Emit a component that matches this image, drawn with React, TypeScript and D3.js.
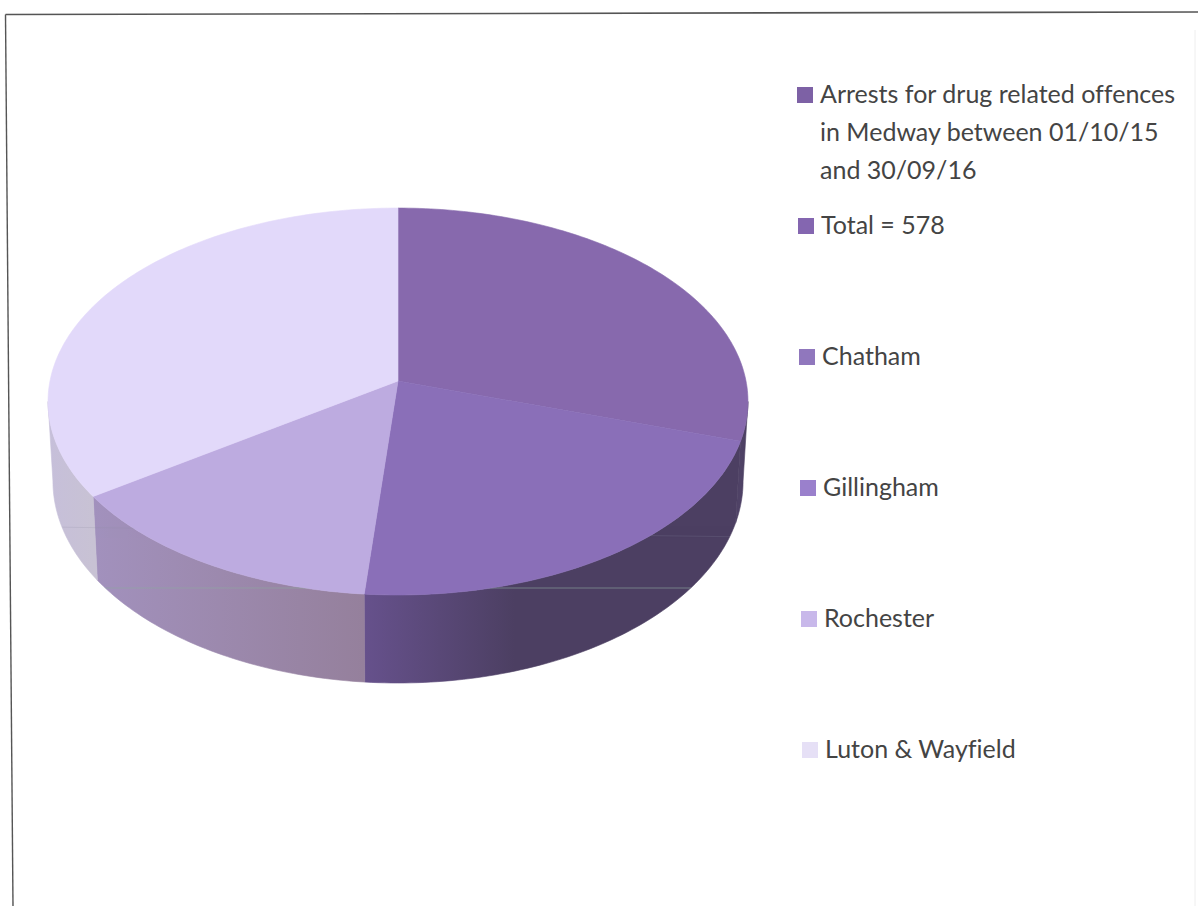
import React from "react";
import * as d3 from "d3";

const categories = ["Chatham", "Gillingham", "Rochester", "Luton & Wayfield"];
const arrests = [173, 124, 81, 200];

const topColors = ["#8769ad", "#8a6fb8", "#bdabe0", "#e2d9fa"];
const wallColorsLeft = ["#4f4266", "#66518c", "#a291bd", "#c6bfda"];
const wallColorsRight = ["#4b3f60", "#4c3f62", "#95809c", "#c8c2d4"];

const legendLabels = [
  ["Arrests for drug related offences", "in Medway between 01/10/15", "and 30/09/16"],
  ["Total = 578"],
  ["Chatham"],
  ["Gillingham"],
  ["Rochester"],
  ["Luton & Wayfield"],
];
const legendColors = ["#7d61a5", "#8466b0", "#9077bd", "#9a80cc", "#c8b8ea", "#e6e0f6"];

const width = 1198;
const height = 906;

// perspective of the disc, worked out from the top face outline
const cx = 398;
const apexY = 381;
const radiusX = 348;
const radiusY = 191.3;
const tilt = 0.106;
const depth = 78.7;
const bottomShrink = 0.986;

type Pt = [number, number];

const project = (angle: number, r: number, lower: boolean): Pt => {
  const u = Math.sin(angle) * r;
  const v = -Math.cos(angle) * r;
  const s = 1 / (1 - tilt * v);
  const x = radiusX * u * s * (lower ? bottomShrink : 1);
  const y = radiusY * v * s + (lower ? depth * s : 0);
  return [cx + x, apexY + y];
};

const sample = (a0: number, a1: number, lower: boolean): Pt[] => {
  const n = Math.max(2, Math.ceil(((a1 - a0) * 180) / Math.PI));
  return d3.range(n + 1).map((i) => project(a0 + ((a1 - a0) * i) / n, 1, lower));
};

const line = d3.line<Pt>();

const pie = d3.pie<number>().sort(null);
const slices = pie(arrests);

// only this part of the rim faces the viewer
const visibleFrom = Math.acos(-tilt);
const visibleTo = 2 * Math.PI - visibleFrom;

const legendY = d3.scaleLinear().domain([0, 1]).range([103, 234]);
const legendX = d3.scaleLinear().domain([0, 5]).range([820, 825]);
const fontFamily = "Lato, 'Open Sans', sans-serif";

export default function App() {
  const outline = [
    ...sample(visibleFrom, visibleTo, false),
    ...sample(visibleFrom, visibleTo, true).reverse(),
  ];
  return (
    <svg
      width={width}
      height={height}
      style={{ position: "absolute", left: 0, top: 0, background: "#fff" }}
    >
      <defs>
        {slices.map((s, i) => {
          const a0 = Math.max(s.startAngle, visibleFrom);
          const a1 = Math.min(s.endAngle, visibleTo);
          if (a1 <= a0) return null;
          return (
            <linearGradient
              key={i}
              id={`wall-${i}`}
              gradientUnits="userSpaceOnUse"
              x1={project(a1, 1, false)[0]}
              x2={project(a0, 1, false)[0]}
              y1={0}
              y2={0}
            >
              <stop offset="0" stopColor={wallColorsLeft[i]} />
              <stop offset={i === 1 ? 0.4 : 1} stopColor={wallColorsRight[i]} />
            </linearGradient>
          );
        })}
        <clipPath id="rim">
          <path d={line(outline) + "Z"} />
        </clipPath>
      </defs>

      {/* scanned page frame */}
      <path d="M5.5,14.5L1198,12" fill="none" stroke="#555" strokeWidth={1.6} />
      <path d="M5.5,14.5L13,906" fill="none" stroke="#555" strokeWidth={1.4} />
      <path d="M1195,30L1195,906" fill="none" stroke="#eee" strokeWidth={1} />

      {slices.map((s, i) => {
        const a0 = Math.max(s.startAngle, visibleFrom);
        const a1 = Math.min(s.endAngle, visibleTo);
        if (a1 <= a0) return null;
        const pts = [...sample(a0, a1, false), ...sample(a0, a1, true).reverse()];
        return (
          <path
            key={categories[i]}
            d={line(pts) + "Z"}
            fill={`url(#wall-${i})`}
            stroke={`url(#wall-${i})`}
            strokeWidth={0.6}
          />
        );
      })}

      {slices.map((s, i) => {
        const pts: Pt[] = [project(0, 0, false), ...sample(s.startAngle, s.endAngle, false)];
        return (
          <path
            key={categories[i]}
            d={line(pts) + "Z"}
            fill={topColors[i]}
            stroke={topColors[i]}
            strokeWidth={0.6}
          />
        );
      })}

      {/* faint scan lines over the rim */}
      <g clipPath="url(#rim)">
        <path d="M40,588L700,588" stroke="#8fa8a0" strokeWidth={1} opacity={0.6} />
        <path d="M50,527L750,537" stroke="#8a8aa0" strokeWidth={1} opacity={0.2} />
      </g>

      {legendLabels.map((rows, i) => (
        <g key={i}>
          <rect
            x={legendX(i) - 23}
            y={legendY(i) - 16}
            width={16}
            height={16}
            fill={legendColors[i]}
          />
          {rows.map((row, j) => (
            <text
              key={j}
              x={legendX(i)}
              y={legendY(i) + j * 38}
              fontFamily={fontFamily}
              fontSize={25}
              fill="#444"
              style={{ fontVariantLigatures: "none" }}
            >
              {row}
            </text>
          ))}
        </g>
      ))}
    </svg>
  );
}
